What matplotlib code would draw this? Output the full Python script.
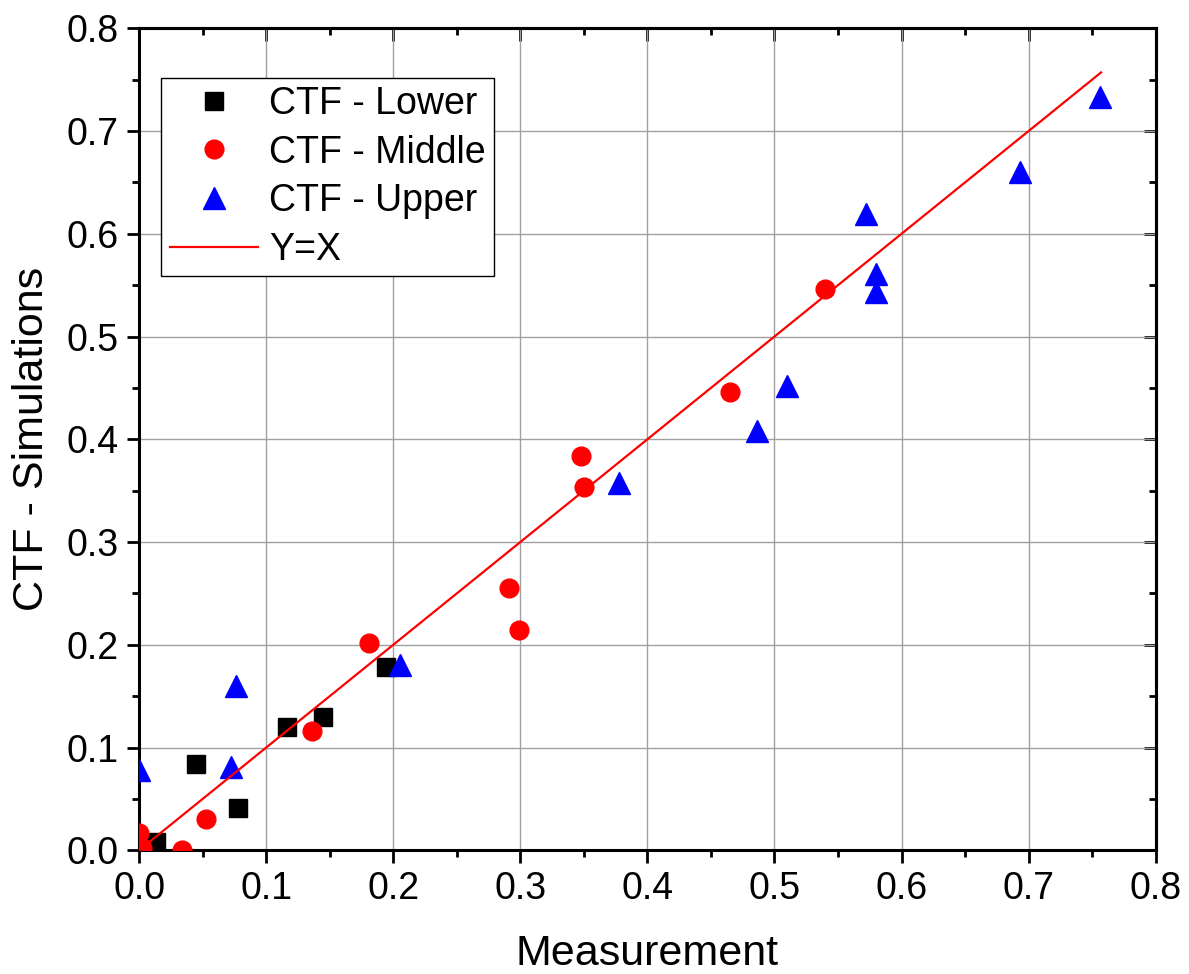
"""
CTF simulations vs measurement, with Y=X reference line
"""

import matplotlib
matplotlib.use('Agg')
from matplotlib import pyplot as plt
import numpy as np

plt.rcParams['font.family'] = ['Liberation Sans', 'DejaVu Sans']

# data
lower_x = [0.013, 0.045, 0.078, 0.116, 0.145, 0.194]
lower_y = [0.008, 0.084, 0.041, 0.120, 0.130, 0.178]

middle_x = [0.0, 0.002, 0.034, 0.053, 0.136, 0.181, 0.291, 0.299, 0.348, 0.350, 0.465, 0.540]
middle_y = [0.017, 0.002, 0.0, 0.030, 0.116, 0.202, 0.255, 0.214, 0.384, 0.354, 0.446, 0.546]

upper_x = [0.0, 0.072, 0.076, 0.205, 0.378, 0.486, 0.510, 0.572, 0.580, 0.580, 0.693, 0.756]
upper_y = [0.078, 0.081, 0.160, 0.180, 0.357, 0.408, 0.452, 0.619, 0.561, 0.543, 0.660, 0.733]

line_x = [0.0, 0.757]

tick_vals = np.arange(0, 0.81, 0.1)
minor_vals = np.arange(0.05, 0.8, 0.1)
tick_labels = ['0.0', '0.1', '0.2', '0.3', '0.4', '0.5', '0.6', '0.7', '0.8']

fig = plt.figure(figsize=(11.89, 9.74), dpi=100)
ax = fig.add_axes([0.117, 0.127, 0.855, 0.844])

ax.grid(True, color='#a0a0a0', linewidth=1.0, zorder=0)
ax.set_axisbelow(True)

ax.plot(lower_x, lower_y, 's', color='black', markersize=12.5, label='CTF - Lower', zorder=3)
ax.plot(middle_x, middle_y, 'o', color='red', markersize=13.5, label='CTF - Middle', zorder=3)
ax.plot(upper_x, upper_y, '^', color='blue', markersize=16.5, label='CTF - Upper', zorder=3)
ax.plot(line_x, line_x, '-', color='red', linewidth=1.6, label='Y=X', zorder=4)

ax.set_xlim(0, 0.8)
ax.set_ylim(0, 0.8)
ax.set_xticks(tick_vals)
ax.set_yticks(tick_vals)
ax.set_xticks(minor_vals, minor=True)
ax.set_yticks(minor_vals, minor=True)
ax.set_xticklabels(tick_labels)
ax.set_yticklabels(tick_labels)

for s in ax.spines.values():
    s.set_linewidth(2.2)

ax.tick_params(axis='both', which='major', direction='out', length=9, width=2,
               labelsize=27, pad=6)
ax.tick_params(axis='both', which='minor', direction='out', length=5, width=2)

# mirrored ticks on top/right point inward
ax2 = ax.secondary_xaxis('top')
ax2.set_xticks(tick_vals)
ax2.set_xticks(minor_vals, minor=True)
ax2.tick_params(which='major', direction='in', length=9, width=2, labeltop=False)
ax2.tick_params(which='minor', direction='in', length=5, width=2)
ax2.spines['top'].set_linewidth(2.2)
ax3 = ax.secondary_yaxis('right')
ax3.set_yticks(tick_vals)
ax3.set_yticks(minor_vals, minor=True)
ax3.tick_params(which='major', direction='in', length=9, width=2, labelright=False)
ax3.tick_params(which='minor', direction='in', length=5, width=2)
ax3.spines['right'].set_linewidth(2.2)

ax.set_xlabel('Measurement', fontsize=31, labelpad=19)
ax.set_ylabel('CTF - Simulations', fontsize=31, labelpad=10)

leg = ax.legend(loc='upper left', bbox_to_anchor=(0.022, 0.94), borderaxespad=0,
                fontsize=27, frameon=True, fancybox=False, framealpha=1,
                edgecolor='black', handlelength=2.35, handletextpad=0.3,
                labelspacing=0.34, borderpad=0.22)
leg.get_frame().set_linewidth(1.0)

fig.savefig('out.png', dpi=100)
